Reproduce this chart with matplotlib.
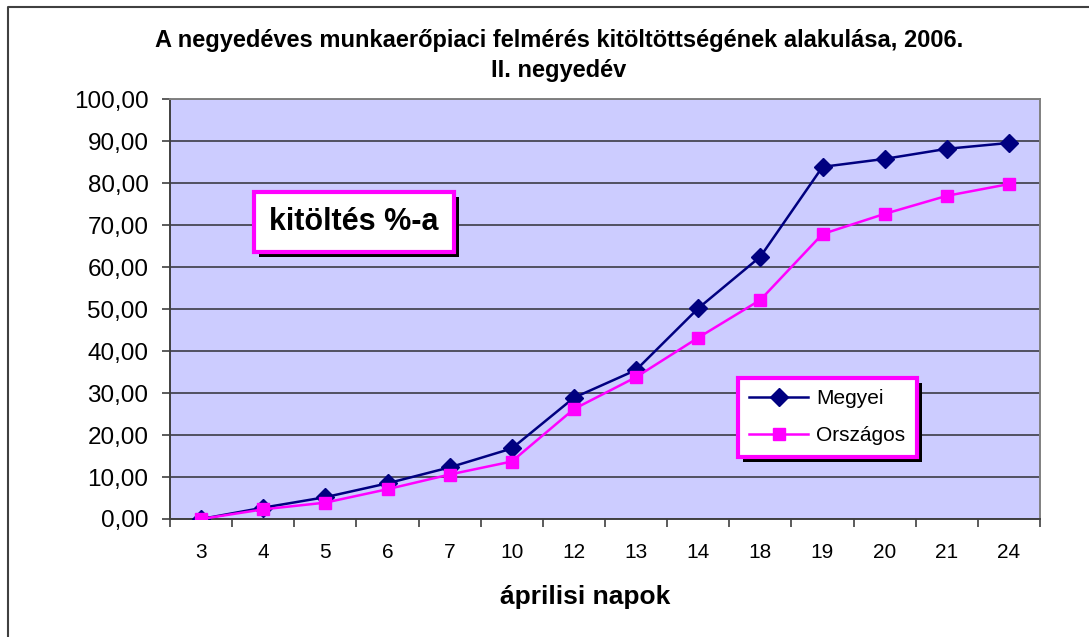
import matplotlib
matplotlib.use("Agg")
import matplotlib.pyplot as plt
from matplotlib.patches import Rectangle
from matplotlib.lines import Line2D
from matplotlib.transforms import IdentityTransform

plt.rcParams['font.family'] = ['Liberation Sans', 'DejaVu Sans']

# data
days = ['3', '4', '5', '6', '7', '10', '12', '13', '14', '18', '19', '20', '21', '24']
megyei = [0.0, 2.7, 5.2, 8.5, 12.3, 16.8, 28.9, 35.5, 50.2, 62.5, 83.9, 85.8, 88.2, 89.6]
orszagos = [0.0, 2.3, 3.9, 7.1, 10.6, 13.7, 26.2, 33.8, 43.2, 52.2, 67.9, 72.7, 77.0, 79.8]
y_ticks = [0, 10, 20, 30, 40, 50, 60, 70, 80, 90, 100]
y_labels = ['0,00', '10,00', '20,00', '30,00', '40,00', '50,00',
            '60,00', '70,00', '80,00', '90,00', '100,00']

W, H = 1089, 637
fig = plt.figure(figsize=(W / 100, H / 100), dpi=100)
ax = fig.add_axes([170 / W, 1 - 519 / H, 870 / W, 419.7 / H])
ax.set_facecolor('#CCCCFF')

x = list(range(len(days)))
ax.plot(x, megyei, color='#000080', lw=1.8, marker='D', ms=9.5,
        mfc='#000080', mec='#000080', label='Megyei', zorder=3)
ax.plot(x, orszagos, color='#FF00FF', lw=1.8, marker='s', ms=9,
        mfc='#FF00FF', mec='#FF00FF', label='Országos', zorder=4)

ax.set_xlim(-0.5, len(days) - 0.5)
ax.set_ylim(0, 100)
ax.set_yticks(y_ticks)
ax.set_yticklabels(y_labels, fontsize=17.5)
ax.yaxis.grid(True, color='#505060', lw=1.4)
ax.set_axisbelow(True)

# x ticks at category borders, labels at centers
ax.set_xticks([i - 0.5 for i in range(len(days) + 1)])
ax.set_xticklabels([])
ax.set_xticks(x, minor=True)
ax.set_xticklabels(days, minor=True, fontsize=15)
ax.tick_params(axis='x', which='minor', length=0, pad=17)
ax.tick_params(axis='x', which='major', length=6, width=1.2, color='#404040')
ax.tick_params(axis='y', length=6, width=1.2, color='#404040', pad=9.5)

for s in ['left', 'bottom']:
    ax.spines[s].set_color('#404040')
    ax.spines[s].set_linewidth(1.4)
for s in ['top', 'right']:
    ax.spines[s].set_color('#808080')
    ax.spines[s].set_linewidth(1.4)

fig.text(559 / W, 1 - 41 / H,
         'A negyedéves munkaerőpiaci felmérés kitöltöttségének alakulása, 2006.',
         ha='center', va='center', fontsize=17, fontweight='bold')
fig.text(559 / W, 1 - 71 / H, 'II. negyedév',
         ha='center', va='center', fontsize=17, fontweight='bold')
fig.text(585 / W, 1 - 597 / H, 'áprilisi napok',
         ha='center', va='center', fontsize=19, fontweight='bold')

# outer chart frame (right/bottom edges lie outside the picture)
fig.add_artist(Line2D([8 / W, 8 / W, 1.0], [0.0, 1 - 7 / H, 1 - 7 / H],
                      color='#404040', lw=1.5))

lbl = ax.text(354 / W, 1 - 222 / H, 'kitöltés %-a', transform=fig.transFigure,
              ha='center', va='center', fontsize=22, fontweight='bold', zorder=6,
              bbox=dict(boxstyle='square,pad=0.5', fc='white', ec='#FF00FF', lw=3))

leg = ax.legend(loc='upper left', bbox_to_anchor=(738 / W, 1 - 378 / H),
                bbox_transform=fig.transFigure, fontsize=15, frameon=True,
                fancybox=False, framealpha=1, edgecolor='#FF00FF',
                handlelength=2.8, borderpad=0.55, labelspacing=0.85,
                handletextpad=0.4, borderaxespad=0)
leg.get_frame().set_linewidth(3)
leg.set_zorder(6)

fig.canvas.draw()
r = fig.canvas.get_renderer()
for bb in [leg.get_frame().get_window_extent(r), lbl.get_bbox_patch().get_window_extent(r)]:
    ax.add_patch(Rectangle((bb.x0 + 5, bb.y0 - 5), bb.width, bb.height,
                           transform=IdentityTransform(), fc='black', ec='none',
                           zorder=5.5, clip_on=False))

fig.savefig('out.png', dpi=100)
